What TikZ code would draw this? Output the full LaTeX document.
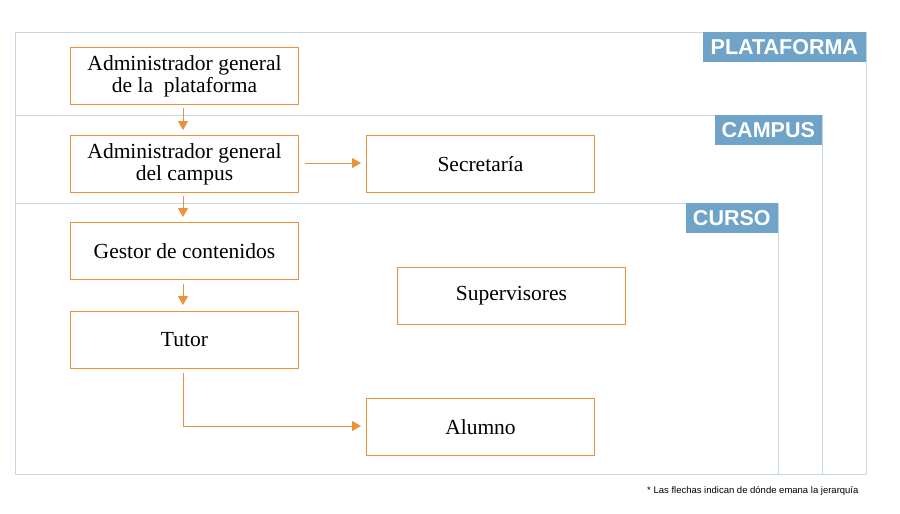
\documentclass[tikz,border=0pt]{standalone}
\usepackage{fontspec}
\setmainfont{Liberation Serif}
\newfontfamily\lsans{Liberation Sans}
\usetikzlibrary{arrows.meta}
\definecolor{fr}{HTML}{C5D7E6}
\definecolor{lb}{HTML}{6FA3C7}
\definecolor{og}{HTML}{E8933A}
\begin{document}
\begin{tikzpicture}[x=1pt,y=-1pt,
  box/.style={draw=og,line width=1pt,minimum width=228pt,minimum height=57pt,inner sep=0pt,align=center,font=\fontsize{21.5}{22}\selectfont,anchor=north west},
  lab/.style={fill=lb,text=white,font=\lsans\bfseries\fontsize{21.5}{23}\selectfont,inner sep=0pt,minimum height=30pt,anchor=north east},
  frame/.style={draw=fr,line width=1pt},
  arr/.style={draw=og,line width=1pt,-{Triangle[length=9pt,width=10pt]}}]
\useasboundingbox (0,0) rectangle (900,514);
\draw[frame] (15,32) rectangle (866,474);
\draw[frame] (15,115) -- (822,115) -- (822,474);
\draw[frame] (15,203) -- (778,203) -- (778,474);
\node[lab,minimum width=163pt] (lp) at (866,32) {PLATAFORMA};
\node[lab,minimum width=107pt] (lc) at (822,115) {CAMPUS};
\node[lab,minimum width=92pt] (lcu) at (778,203) {CURSO};
\node[box] (ap) at (70,47) {Administrador general\\de la\ \ plataforma};
\node[box] (ac) at (70,135) {Administrador general\\del campus};
\node[box] (se) at (366,135) {Secretaría};
\node[box] (ge) at (70,222) {Gestor de contenidos};
\node[box] (tu) at (70,311) {Tutor};
\node[box] (su) at (397,267) {Supervisores};
\node[box] (al) at (366,398) {Alumno};
\coordinate (a1) at (183,108); \coordinate (a1e) at (183,130);
\draw[arr] (a1) -- (a1e);
\coordinate (a2) at (183,196); \coordinate (a2e) at (183,217);
\draw[arr] (a2) -- (a2e);
\coordinate (a3) at (183,284); \coordinate (a3e) at (183,305);
\draw[arr] (a3) -- (a3e);
\coordinate (a4) at (305,163); \coordinate (a4e) at (361,163);
\draw[arr] (a4) -- (a4e);
\coordinate (a5) at (183,373); \coordinate (a5e) at (361,426);
\draw[arr] (a5) |- (a5e);
\node[font=\lsans\fontsize{9.5}{11}\selectfont,anchor=east] (fn) at (862,491) {* Las flechas indican de dónde emana la jerarquía};
\end{tikzpicture}
\end{document}
